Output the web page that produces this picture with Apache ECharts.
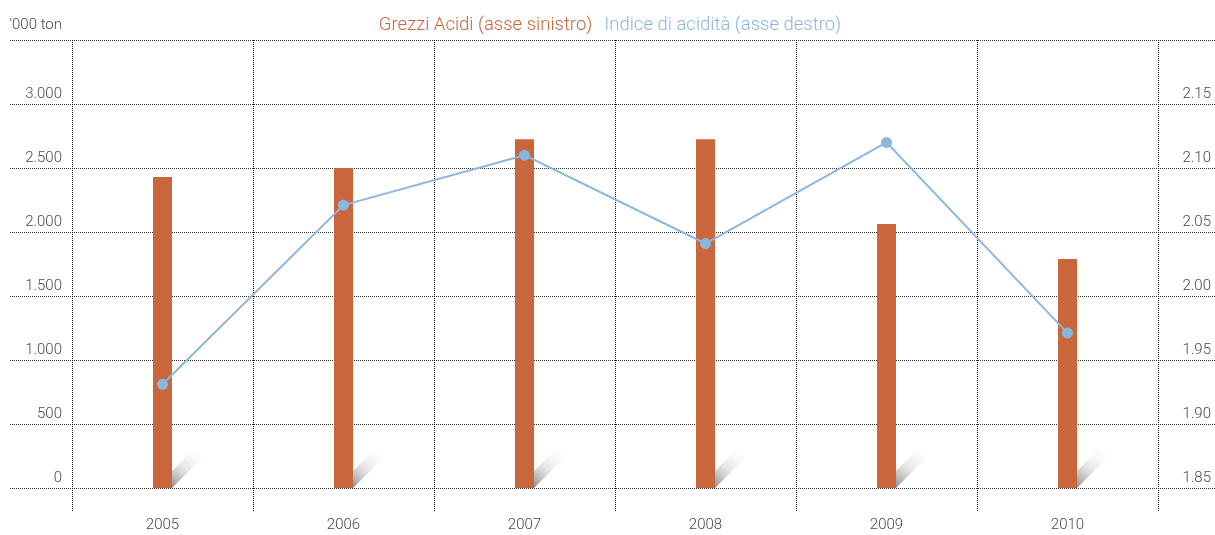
<!DOCTYPE html>
<html>
<head>
<meta charset="utf-8">
<script src="https://cdn.jsdelivr.net/npm/echarts@6/dist/echarts.min.js"></script>
<style>
  html, body { margin: 0; padding: 0; background: #fff; }
  #chart { width: 1215px; height: 535px; }
</style>
</head>
<body>
<div id="chart"></div>
<script>
const years = ['2005', '2006', '2007', '2008', '2009', '2010'];
const grezziAcidi = [2430, 2500, 2725, 2725, 2062, 1790];
const indiceAcidita = [1.931, 2.071, 2.110, 2.041, 2.120, 1.971];
const leftTicks = [0, 3500, 500];
const rightTicks = [1.85, 2.20, 0.05];

const FONT = 'Roboto';
const ORANGE = '#c9663c';
const BLUE = '#8ab6e0';
const GREY = '#4a4a4a';

const thousands = v => String(v).replace(/\B(?=(\d{3})+(?!\d))/g, '.');

const chart = echarts.init(document.getElementById('chart'));

// decorative shadow at the foot of every bar
const renderShadow = (params, api) => {
    const p = api.coord([api.value(0), 0]);
    const r = p[0] + 9.5;
    const b = p[1];
    return {
        type: 'polygon',
        shape: { points: [[r, b], [r, b - 17], [r + 25, b - 42], [r + 31, b - 31]] },
        style: {
            fill: new echarts.graphic.LinearGradient(0, 1, 1, 0, [
                { offset: 0, color: 'rgba(120,120,120,0.85)' },
                { offset: 0.45, color: 'rgba(200,200,200,0.45)' },
                { offset: 1, color: 'rgba(255,255,255,0)' }
            ])
        },
        silent: true
    };
};

chart.setOption({
    animation: false,
    textStyle: { fontFamily: FONT, fontWeight: 300 },
    legend: {
        top: 11,
        left: 'center',
        icon: 'none',
        itemWidth: 0,
        itemGap: 7,
        textStyle: { fontSize: 18.5, fontFamily: FONT, fontWeight: 300 },
        data: [
            { name: 'Grezzi Acidi (asse sinistro)', textStyle: { color: ORANGE } },
            { name: 'Indice di acidità (asse destro)', textStyle: { color: BLUE } }
        ]
    },
    grid: [
        { left: 72, right: 57, top: 40, bottom: 47 },
        { left: 10, right: 0, top: 40, bottom: 47 }
    ],
    xAxis: [
        {
            type: 'category',
            data: years,
            gridIndex: 0,
            axisLine: { show: false },
            axisTick: { show: true, length: 24, lineStyle: { color: '#111', type: 'dotted' } },
            splitLine: { show: true, lineStyle: { color: '#111', type: 'dotted' } },
            axisLabel: { color: GREY, fontSize: 15, margin: 30, fontFamily: FONT, fontWeight: 300 }
        },
        { type: 'value', gridIndex: 1, show: false, min: 0, max: 1 }
    ],
    yAxis: [
        {
            type: 'value',
            gridIndex: 0,
            min: leftTicks[0], max: leftTicks[1], interval: leftTicks[2],
            name: "'000 ton",
            nameLocation: 'end',
            nameGap: 7,
            nameTextStyle: { color: GREY, fontSize: 15, align: 'right', padding: [0, 10, 0, 0], fontFamily: FONT, fontWeight: 300 },
            axisLine: { show: false },
            axisTick: { show: false },
            splitLine: { show: false },
            axisLabel: {
                color: GREY, fontSize: 15, margin: 10, verticalAlign: 'bottom', padding: [0, 0, 2, 0],
                fontFamily: FONT, fontWeight: 300,
                formatter: v => v >= leftTicks[1] ? '' : thousands(v)
            }
        },
        {
            type: 'value',
            gridIndex: 0,
            position: 'right',
            min: rightTicks[0], max: rightTicks[1], interval: rightTicks[2],
            axisLine: { show: false },
            axisTick: { show: false },
            splitLine: { show: false },
            axisLabel: {
                color: GREY, fontSize: 15, margin: 53, align: 'right', verticalAlign: 'bottom', padding: [0, 0, 2, 0],
                fontFamily: FONT, fontWeight: 300,
                formatter: v => v > rightTicks[1] - 0.01 ? '' : v.toFixed(2)
            }
        },
        {
            type: 'value',
            gridIndex: 1,
            min: leftTicks[0], max: leftTicks[1], interval: leftTicks[2],
            axisLine: { show: false },
            axisTick: { show: false },
            axisLabel: { show: false },
            splitLine: { show: true, lineStyle: { color: '#333', type: 'dotted' } }
        }
    ],
    series: [
        {
            name: 'Grezzi Acidi (asse sinistro)',
            type: 'bar',
            data: grezziAcidi,
            barWidth: 19,
            yAxisIndex: 0,
            itemStyle: { color: ORANGE },
            z: 3
        },
        {
            name: 'shadow',
            type: 'custom',
            data: years.map((y, i) => [i, 0]),
            renderItem: renderShadow,
            yAxisIndex: 0,
            z: 1
        },
        {
            name: 'Indice di acidità (asse destro)',
            type: 'line',
            data: indiceAcidita,
            yAxisIndex: 1,
            symbol: 'circle',
            symbolSize: 11,
            lineStyle: { color: BLUE, width: 2 },
            itemStyle: { color: BLUE },
            z: 4
        }
    ]
});
</script>
</body>
</html>
